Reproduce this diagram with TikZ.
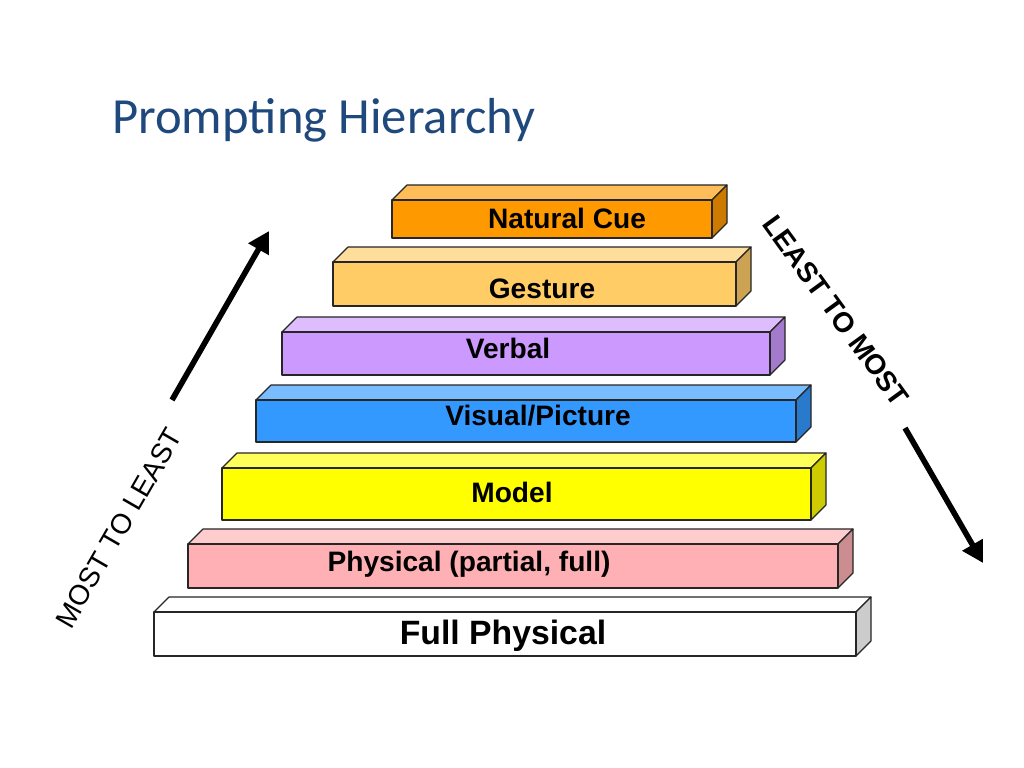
\documentclass[tikz,border=0pt]{standalone}
\usepackage{fontspec}
\setmainfont{Liberation Sans}
\newfontfamily\titlefont{Carlito}
\usetikzlibrary{arrows.meta}

\definecolor{titleblue}{HTML}{1F497D}
\definecolor{cueorange}{HTML}{FF9900}
\definecolor{gestureyellow}{HTML}{FFCC66}
\definecolor{verbalviolet}{HTML}{CC99FF}
\definecolor{visualblue}{HTML}{3399FF}
\definecolor{modelyellow}{HTML}{FFFF00}
\definecolor{physicalpink}{HTML}{FFB0B4}
\definecolor{fullwhite}{HTML}{FFFFFF}

\begin{document}
\begin{tikzpicture}[
  x=0.025cm, y=-0.025cm,
  slab/.style={draw=black!85, line width=0.8pt, line join=round},
  tag/.style={anchor=base, inner sep=0pt, font=\bfseries\fontsize{20}{24}\selectfont},
  sidetag/.style={inner sep=0pt, font=\fontsize{20}{24}\selectfont},
  bigarrow/.style={line width=4pt, -{Triangle[length=15pt,width=16pt]}}
]
\useasboundingbox (0,0) rectangle (1024,768);
\fill[white] (0,0) rectangle (1024,768);

\node[anchor=base west, inner sep=0pt, text=titleblue,
  font=\titlefont\fontsize{36}{43}\selectfont] (title) at (112,134) {Prompting Hierarchy};

% slabs: left/right/top/bottom/colour, depth 15
\foreach \l/\r/\t/\b/\c in {392/712/200/238/cueorange,
    333/736/262/306/gestureyellow,
    282/770/332/375/verbalviolet,
    256/796/400/442/visualblue,
    222/811/468/520/modelyellow,
    188/838/544/588/physicalpink,
    154/856/612/656/fullwhite}{
  \filldraw[slab, fill=\c!65!white] (\l,\t) -- (\l+15,\t-15) -- (\r+15,\t-15) -- (\r,\t) -- cycle;
  \filldraw[slab, fill=\c!80!black] (\r,\t) -- (\r+15,\t-15) -- (\r+15,\b-15) -- (\r,\b) -- cycle;
  \filldraw[slab, fill=\c] (\l,\t) rectangle (\r,\b);
}

\node[tag] (cue) at (567,228) {Natural Cue};
\node[tag] (gesture) at (542,298) {Gesture};
\node[tag] (verbal) at (508,358) {Verbal};
\node[tag] (visual) at (538,425) {Visual/Picture};
\node[tag] (model) at (512,502) {Model};
\node[tag] (physical) at (469,571) {Physical (partial, full)};
\node[tag, font=\bfseries\fontsize{24}{29}\selectfont] (full) at (503,644) {Full Physical};

% direction arrows
\coordinate (rise-from) at (172,400);
\coordinate (rise-to) at (269,231);
\coordinate (fall-from) at (905,428);
\coordinate (fall-to) at (983,563);
\draw[bigarrow] (rise-from) -- (rise-to);
\draw[bigarrow] (fall-from) -- (fall-to);

\node[sidetag, rotate=60] (most-least) at (119,528) {MOST TO LEAST};
\node[sidetag, rotate=-54, font=\bfseries\fontsize{20}{24}\selectfont] (least-most) at (836,311) {LEAST TO MOST};
\end{tikzpicture}
\end{document}
